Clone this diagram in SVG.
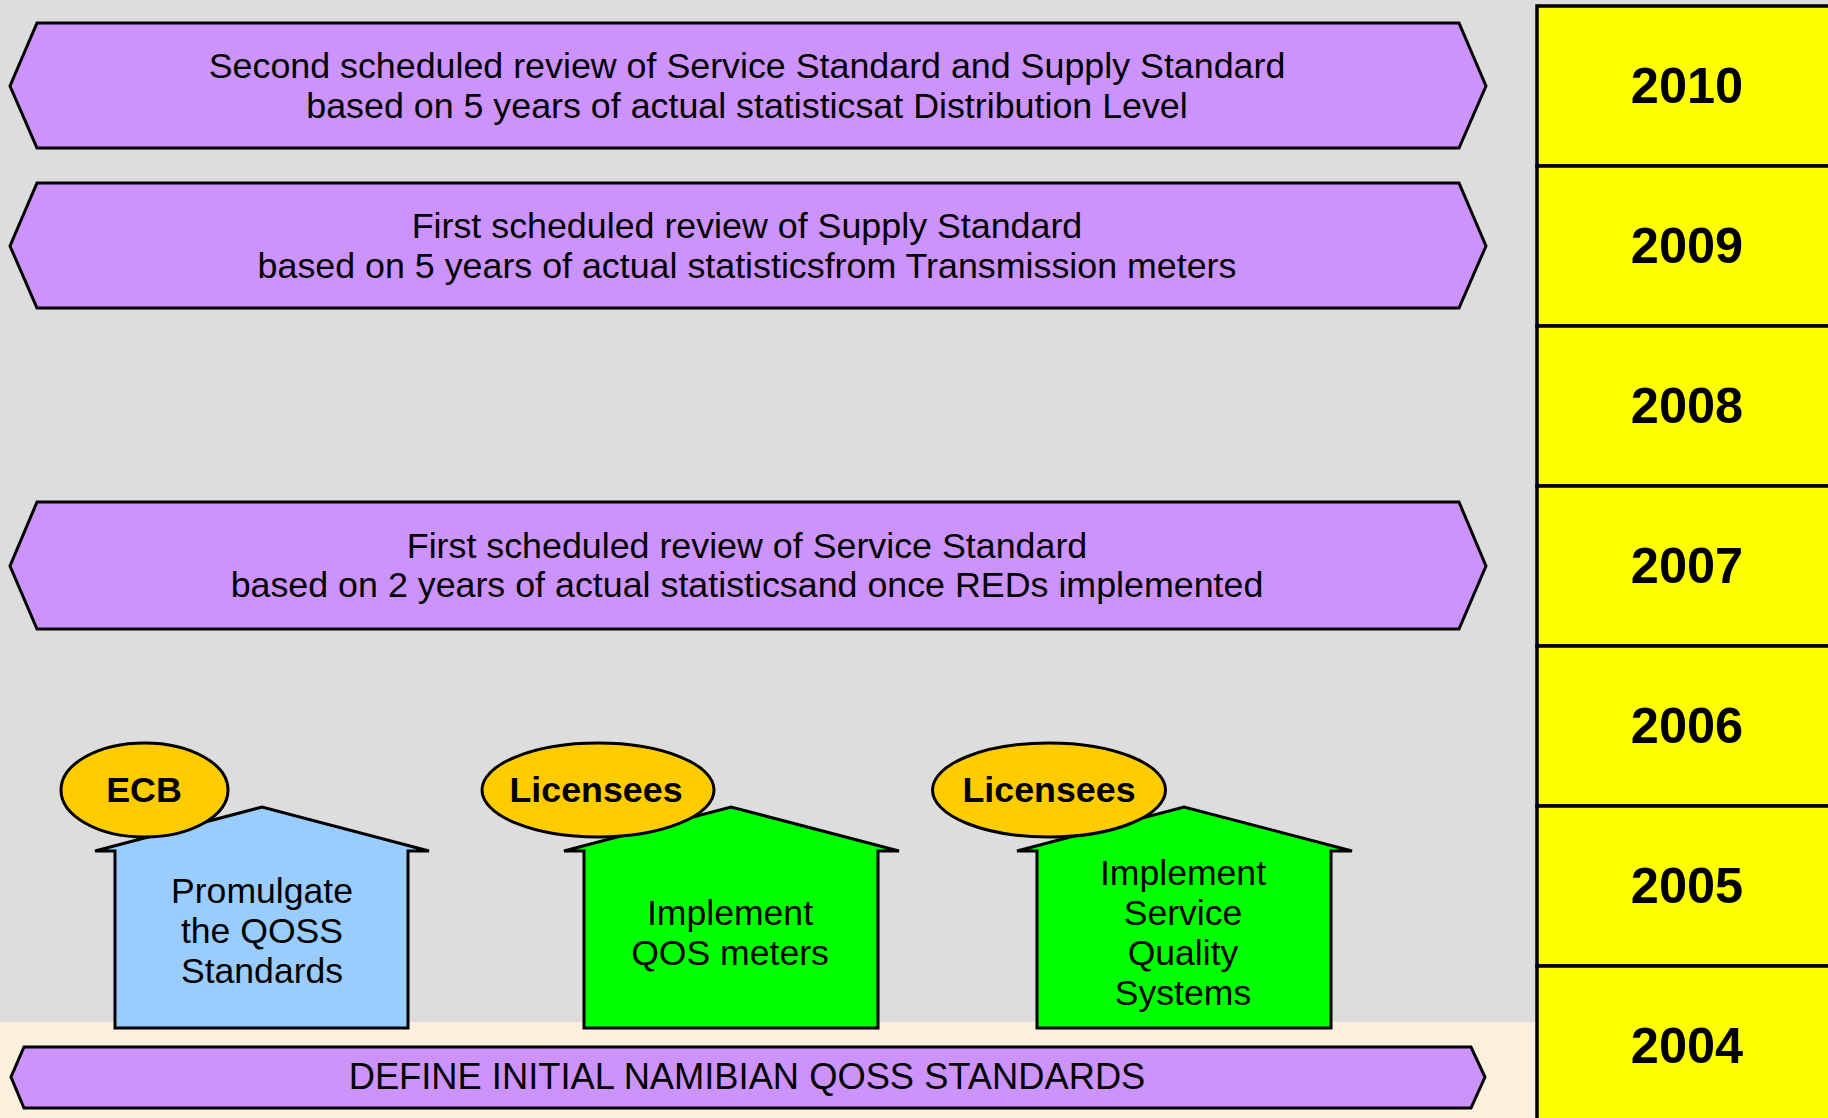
<svg xmlns="http://www.w3.org/2000/svg" width="1828" height="1118" viewBox="0 0 1828 1118">
<style>
.bn{fill:#CC93FD;stroke:#000;stroke-width:3;stroke-linejoin:miter}
.yr{fill:#FFFF00;stroke:#000;stroke-width:3.5}
.hb{fill:#99CCFF;stroke:#000;stroke-width:3}
.hg{fill:#00FF00;stroke:#000;stroke-width:3}
.el{fill:#FFCC00;stroke:#000;stroke-width:3}
.t{font-family:"Liberation Sans",Arial,sans-serif;font-size:35.8px;fill:#000;text-anchor:middle}
.th{font-family:"Liberation Sans",Arial,sans-serif;font-size:35.6px;fill:#000;text-anchor:middle}
.tb{font-family:"Liberation Sans",Arial,sans-serif;font-size:35.8px;font-weight:bold;fill:#000;text-anchor:middle}
.ty{font-family:"Liberation Sans",Arial,sans-serif;font-size:50.5px;font-weight:bold;fill:#000;text-anchor:middle}
</style>
<rect x="0" y="0" width="1828" height="1118" fill="#DDDDDD"/>
<rect x="0" y="1022" width="1540" height="96" fill="#FCF0DC"/>

<g id="years">
<g id="y2010"><rect class="yr" x="1537" y="6" width="300" height="160"/><text class="ty" x="1687" y="103">2010</text></g>
<g id="y2009"><rect class="yr" x="1537" y="166" width="300" height="160"/><text class="ty" x="1687" y="263">2009</text></g>
<g id="y2008"><rect class="yr" x="1537" y="326" width="300" height="160"/><text class="ty" x="1687" y="423">2008</text></g>
<g id="y2007"><rect class="yr" x="1537" y="486" width="300" height="160"/><text class="ty" x="1687" y="583">2007</text></g>
<g id="y2006"><rect class="yr" x="1537" y="646" width="300" height="160"/><text class="ty" x="1687" y="743">2006</text></g>
<g id="y2005"><rect class="yr" x="1537" y="806" width="300" height="160"/><text class="ty" x="1687" y="903">2005</text></g>
<g id="y2004"><rect class="yr" x="1537" y="966" width="300" height="160"/><text class="ty" x="1687" y="1063">2004</text></g>
</g>

<g id="banner2010">
<polygon class="bn" points="37,23 1459,23 1486,86 1459,148 37,148 10,86"/>
<text class="t" x="747" y="78">Second scheduled review of Service Standard and Supply Standard</text>
<text class="t" x="747" y="118">based on 5 years of actual statisticsat Distribution Level</text>
</g>
<g id="banner2009">
<polygon class="bn" points="37,183 1459,183 1486,246 1459,308 37,308 10,246"/>
<text class="t" x="747" y="238">First scheduled review of Supply Standard</text>
<text class="t" x="747" y="278">based on 5 years of actual statisticsfrom Transmission meters</text>
</g>
<g id="banner2007">
<polygon class="bn" points="37,502 1459,502 1486,566 1459,629 37,629 10,566"/>
<text class="t" x="747" y="558">First scheduled review of Service Standard</text>
<text class="t" x="747" y="597">based on 2 years of actual statisticsand once REDs implemented</text>
</g>
<g id="banner2004">
<polygon class="bn" points="24,1047 1471,1047 1485,1077 1471,1108 24,1108 11,1077"/>
<text class="t" x="747" y="1089" style="font-size:36.3px">DEFINE INITIAL NAMIBIAN QOSS STANDARDS</text>
</g>

<g id="house1">
<polygon class="hb" points="95,851 262,807 429,851 408,851 408,1028 115,1028 115,851"/>
<text class="th" x="262" y="903">Promulgate</text>
<text class="th" x="262" y="943">the QOSS</text>
<text class="th" x="262" y="983">Standards</text>
</g>
<g id="ecb">
<ellipse class="el" cx="144.5" cy="790" rx="83.5" ry="47"/>
<text class="tb" x="144" y="802">ECB</text>
</g>

<g id="house2">
<polygon class="hg" points="564,851 731,807 899,851 878,851 878,1028 584,1028 584,851"/>
<text class="th" x="730" y="925">Implement</text>
<text class="th" x="730" y="965">QOS meters</text>
</g>
<g id="lic1">
<ellipse class="el" cx="598" cy="790" rx="116" ry="47"/>
<text class="tb" x="596" y="802">Licensees</text>
</g>

<g id="house3">
<polygon class="hg" points="1017,851 1184,807 1352,851 1331,851 1331,1028 1037,1028 1037,851"/>
<text class="th" x="1183" y="885">Implement</text>
<text class="th" x="1183" y="925">Service</text>
<text class="th" x="1183" y="965">Quality</text>
<text class="th" x="1183" y="1005">Systems</text>
</g>
<g id="lic2">
<ellipse class="el" cx="1049" cy="790" rx="116.5" ry="47"/>
<text class="tb" x="1049" y="802">Licensees</text>
</g>

<g id="connectors"></g>
</svg>
